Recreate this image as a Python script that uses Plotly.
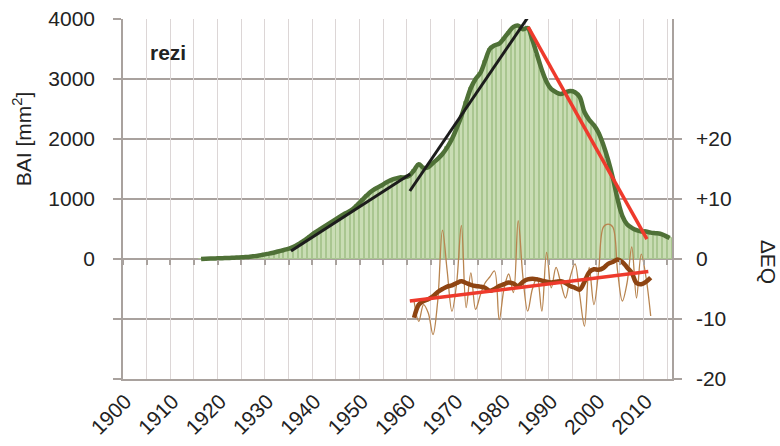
import plotly.graph_objects as go

# ---------------- data ----------------
bai_years = list(range(1916, 2016))
bai_values = [
    0, 5, 8, 10, 12, 15, 18, 22, 25, 30,            # 1916-1925
    35, 45, 55, 70, 85, 100, 120, 140, 160, 185,    # 1926-1935
    220, 270, 320, 380, 440, 490, 540, 590, 640, 690,   # 1936-1945
    740, 780, 830, 900, 980, 1060, 1130, 1180, 1220, 1270,  # 1946-1955
    1310, 1340, 1360, 1360, 1390, 1480, 1580, 1520, 1530, 1600,  # 1956-1965
    1670, 1750, 1860, 2000, 2180, 2380, 2620, 2850, 3000, 3100,  # 1966-1975
    3300, 3500, 3560, 3590, 3680, 3780, 3870, 3890, 3830, 3850,  # 1976-1985
    3650, 3400, 3150, 2950, 2830, 2780, 2750, 2780, 2800, 2780,  # 1986-1995
    2700, 2450, 2320, 2230, 2100, 1900, 1650, 1350, 1000, 720,   # 1996-2005
    580, 520, 480, 460, 460, 440, 430, 420, 390, 350,            # 2006-2015
]

trend_up1_years = [1935, 1960.2]
trend_up1_values = [133, 1417]
trend_up2_years = [1960.1, 1985.1]
trend_up2_values = [1133, 4033]
trend_down_years = [1985.1, 2010.2]
trend_down_values = [3870, 330]

eq_years = list(range(1961, 2012))
eq_annual = [
    -7.0, -10.4, -7.6, -9.0, -12.6, -7.0, 4.8, -2.0, -8.7, -4.0,   # 1961-1970
    5.6, -8.1, -2.3, -8.4, -6.0, -4.0, -3.0, -2.0, -10.1, -5.0,    # 1971-1980
    -2.5, -5.6, 6.4, -3.0, -8.7, -5.0, -3.1, -8.7, 1.1, -4.8,      # 1981-1990
    -1.4, -4.0, -6.5, -3.0, -0.8, -6.0, -11.2, -1.4, -7.6, -2.0,   # 1991-2000
    5.3, 5.8, 5.3, -2.0, -7.0, -4.0, 2.0, -6.5, 0.8, -3.0,         # 2001-2010
    -9.5,                                                           # 2011
]
eq_smooth = [
    -9.8, -7.6, -7.0, -6.7, -6.2, -5.5, -5.0, -4.6, -4.4, -4.0,
    -3.7, -4.0, -4.3, -4.5, -4.6, -4.8, -5.3, -5.0, -4.5, -4.2,
    -3.9, -4.1, -4.5, -3.8, -3.4, -3.3, -3.4, -3.6, -3.8, -3.9,
    -3.8, -3.7, -4.0, -4.5, -4.8, -5.1, -3.8, -2.2, -1.7, -1.8,
    -1.5, -0.8, -0.5, -0.1, -0.5, -1.4, -2.3, -4.0, -4.2, -3.8,
    -3.1,
]
eq_trend_years = [1960.1, 2010.5]
eq_trend_values = [-7.0, -2.1]

x_label_years = list(range(1900, 2011, 10))
bai_tick_vals = [0, 1000, 2000, 3000, 4000]
bai_minor_vals = [-2000, -1000]
eq_tick_vals = [-20, -10, 0, 10, 20]
eq_tick_text = ["-20", "-10", "0", "+10", "+20"]

# ---------------- styles ----------------
FONT = "Liberation Sans, Arial, sans-serif"
FS = 21
TXT = "#222222"
GRID = "#a9a29e"
VGRID = "#dcd6d6"
XR = [1899.5, 2015.5]

fig = go.Figure()

fig.add_trace(go.Bar(
    x=bai_years, y=bai_values, width=0.8,
    marker=dict(color="#c9ddb4", line=dict(color="#a9c690", width=1)),
    xaxis="x", yaxis="y", hoverinfo="skip",
))
fig.add_trace(go.Scatter(
    x=bai_years, y=bai_values, mode="lines",
    line=dict(color="#4f7137", width=4.5, shape="spline"),
    xaxis="x", yaxis="y",
))
fig.add_trace(go.Scatter(
    x=trend_up1_years, y=trend_up1_values, mode="lines",
    line=dict(color="#1c1c1c", width=3), xaxis="x", yaxis="y",
))
fig.add_trace(go.Scatter(
    x=trend_up2_years, y=trend_up2_values, mode="lines",
    line=dict(color="#1c1c1c", width=3), xaxis="x", yaxis="y",
))
fig.add_trace(go.Scatter(
    x=trend_down_years, y=trend_down_values, mode="lines",
    line=dict(color="#ee3a2c", width=3.5), xaxis="x", yaxis="y",
))
fig.add_trace(go.Scatter(
    x=eq_years, y=eq_annual, mode="lines",
    line=dict(color="#b8844f", width=1.3, shape="spline"),
    xaxis="x", yaxis="y2",
))
fig.add_trace(go.Scatter(
    x=eq_years, y=eq_smooth, mode="lines",
    line=dict(color="#8e4412", width=4.5, shape="spline"),
    xaxis="x", yaxis="y2",
))
fig.add_trace(go.Scatter(
    x=eq_trend_years, y=eq_trend_values, mode="lines",
    line=dict(color="#ee3a2c", width=3.5), xaxis="x", yaxis="y2",
))
# invisible helpers so the auxiliary axes are drawn
fig.add_trace(go.Scatter(x=[XR[0]], y=[0], mode="markers", marker=dict(opacity=0),
                         xaxis="x2", yaxis="y", hoverinfo="skip"))
fig.add_trace(go.Scatter(x=[XR[0]], y=[0], mode="markers", marker=dict(opacity=0),
                         xaxis="x3", yaxis="y", hoverinfo="skip"))

fig.update_layout(
    width=780, height=446,
    margin=dict(l=123, r=108, t=19, b=67),
    paper_bgcolor="white", plot_bgcolor="white",
    showlegend=False,
    font=dict(family=FONT, size=FS, color=TXT),
    bargap=0,
    xaxis=dict(
        range=XR, tickmode="array", tickvals=x_label_years,
        ticktext=[str(v) for v in x_label_years], automargin=False,
        tickangle=-45, showgrid=False, zeroline=False,
        showline=True, linecolor=GRID, linewidth=1.5, ticks="",
        tickfont=dict(family=FONT, size=FS, color=TXT),
    ),
    xaxis2=dict(
        range=XR, overlaying="x", tickmode="linear", tick0=1899.5, dtick=5,
        showgrid=True, gridcolor=VGRID, gridwidth=1, showticklabels=False,
        ticks="", zeroline=False, showline=False, automargin=False,
    ),
    xaxis3=dict(
        range=XR, overlaying="x", anchor="free", position=1 / 3,
        tickmode="linear", tick0=1899.5, dtick=5, ticks="outside", ticklen=5,
        tickcolor=GRID, tickwidth=1.5, showticklabels=False, showgrid=False,
        zeroline=False, showline=False, automargin=False,
    ),
    yaxis=dict(
        range=[-2000, 4000], tickmode="array", tickvals=bai_tick_vals,
        showgrid=True, gridcolor=GRID, gridwidth=1.5, automargin=False,
        zeroline=True, zerolinecolor=GRID, zerolinewidth=1.5,
        showline=True, linecolor=GRID, linewidth=1.5,
        ticks="outside", ticklen=8, tickcolor=GRID, tickwidth=1.5,
        ticklabelstandoff=14,
        minor=dict(tickmode="array", tickvals=bai_minor_vals, showgrid=True,
                   gridcolor=GRID, gridwidth=1.5, ticks="outside", ticklen=8,
                   tickcolor=GRID, tickwidth=1.5),
    ),
    yaxis2=dict(
        range=[-20, 40], overlaying="y", side="right", tickmode="array",
        tickvals=eq_tick_vals, ticktext=eq_tick_text, showgrid=False,
        zeroline=False, showline=True, linecolor=GRID, linewidth=1.5,
        ticks="outside", ticklen=8, tickcolor=GRID, tickwidth=1.5,
        ticklabelstandoff=10, automargin=False,
    ),
    annotations=[
        dict(text="<b>rezi</b>", xref="paper", yref="paper", x=0.045, y=0.906,
             xanchor="left", yanchor="middle", showarrow=False,
             font=dict(family=FONT, size=FS, color=TXT)),
        dict(text="BAI [mm<sup>2</sup>]", xref="paper", yref="paper",
             x=-0.184, y=0.669, textangle=-90, showarrow=False,
             xanchor="center", yanchor="middle",
             font=dict(family=FONT, size=FS, color=TXT)),
        dict(text="ΔEQ", xref="paper", yref="paper", x=1.177, y=0.325,
             textangle=90, showarrow=False, xanchor="center", yanchor="middle",
             font=dict(family=FONT, size=FS, color=TXT)),
    ],
)

fig.write_html("out.html", config={"displayModeBar": False},
               post_script="document.body.style.margin='0';document.body.style.overflow='hidden';")
